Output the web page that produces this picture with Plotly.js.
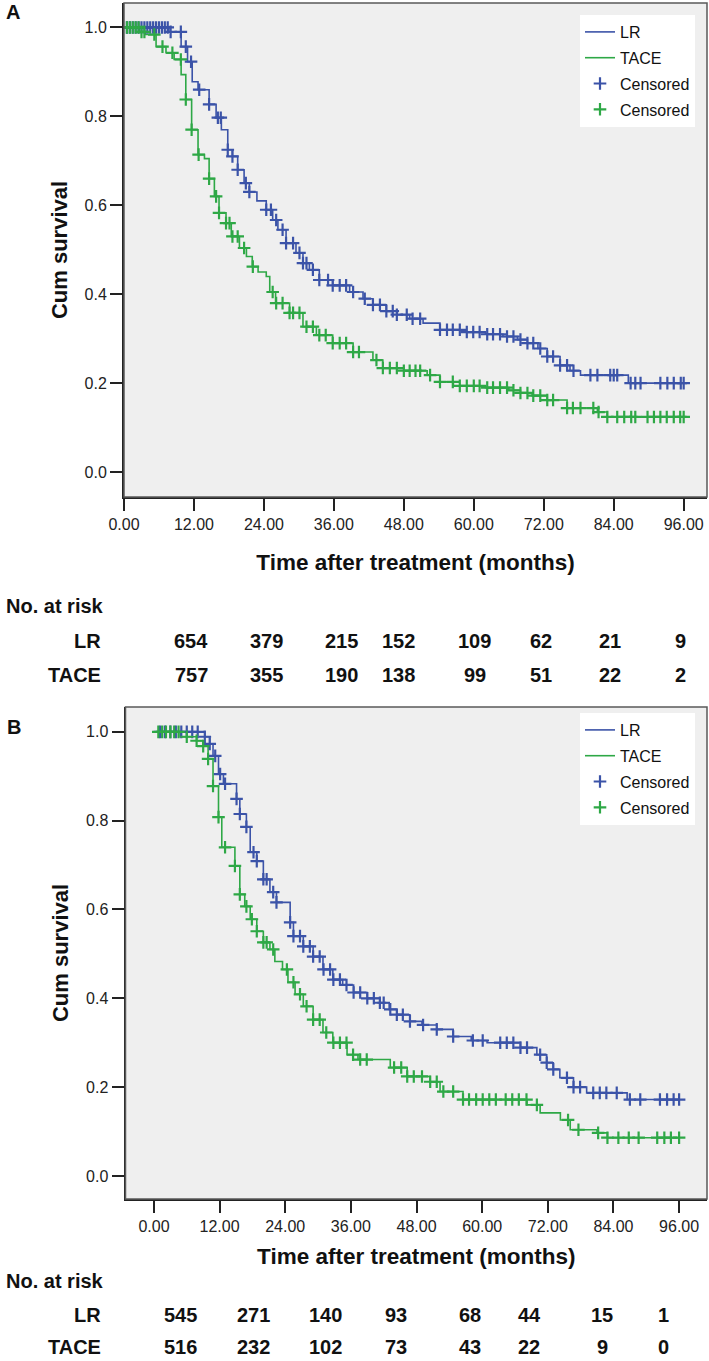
<!DOCTYPE html>
<html><head><meta charset="utf-8">
<script src="https://cdn.plot.ly/plotly-3.0.1.min.js"></script>
<style>html,body{margin:0;padding:0;background:#fff}#chart{width:709px;height:1361px}</style>
</head><body><div id="chart"></div>
<script>
// ---------- data ----------
const xTickVals = [0, 12, 24, 36, 48, 60, 72, 84, 96];
const xTickText = ["0.00", "12.00", "24.00", "36.00", "48.00", "60.00", "72.00", "84.00", "96.00"];
const yTickVals = [0, 0.2, 0.4, 0.6, 0.8, 1.0];
const yTickText = ["0.0", "0.2", "0.4", "0.6", "0.8", "1.0"];
const groupNames = ["LR", "TACE"];
const censorName = "Censored";

// Panel A
const timeA_LR = [0, 7.7, 9.8, 10.9, 11.7, 12.7, 14.6, 15.8, 16.7, 17.8, 18.6, 19.5, 20.6, 21.5, 22.8, 24.4, 25.5, 26.4, 27.8, 29.5, 30.7, 31.8, 33.5, 35.8, 38.7, 41, 42.7, 45, 46.8, 49, 51.3, 54.2, 58, 62, 65, 67.5, 69.2, 71, 72.6, 74.8, 76.5, 78.3, 86.5, 96];
const survA_LR = [1, 0.99, 0.957, 0.923, 0.878, 0.86, 0.827, 0.797, 0.77, 0.725, 0.71, 0.68, 0.65, 0.63, 0.61, 0.59, 0.567, 0.545, 0.515, 0.493, 0.47, 0.455, 0.432, 0.42, 0.405, 0.39, 0.376, 0.362, 0.354, 0.345, 0.335, 0.32, 0.315, 0.31, 0.305, 0.298, 0.29, 0.278, 0.26, 0.24, 0.228, 0.218, 0.2, 0.2];
const censA_LR = [0.5, 1, 1.5, 2, 2.5, 3, 3.5, 4, 4.5, 5, 5.5, 6, 6.5, 7, 7.5, 8, 9.75, 10.6, 11.5, 12.9, 14.6, 16.1, 16.6, 17.8, 18.6, 19.5, 20.9, 21.5, 24.4, 25.2, 26.1, 27.2, 27.8, 29, 30.1, 30.7, 31.3, 32.4, 33.5, 35, 35.8, 37, 38.1, 39.3, 41.3, 42.7, 43.9, 45, 46.1, 46.8, 48.5, 49.5, 50.8, 54.2, 55.4, 56.4, 57.6, 58.8, 59.9, 61, 62.3, 63.3, 64.5, 65.7, 66.8, 68, 69.2, 70.2, 71.4, 72.6, 73.6, 74.8, 76, 77.1, 80, 81.2, 83.4, 84, 84.6, 86.9, 87.7, 88.6, 92, 93.2, 94.3, 95.5, 96];

const timeA_TACE = [0, 2.6, 3.7, 5.5, 7.2, 8.6, 9.8, 10.6, 11.6, 12.7, 13.8, 14.6, 15.5, 16.3, 17.5, 18.4, 19.8, 21, 22, 23, 24.4, 25, 26, 28.4, 30.7, 33, 35.8, 39.3, 42.7, 44.4, 48, 52, 54.2, 56.5, 62, 66, 68, 70, 72.6, 76, 81.2, 82.9, 96];
const survA_TACE = [1, 0.99, 0.984, 0.957, 0.943, 0.928, 0.894, 0.838, 0.77, 0.714, 0.705, 0.66, 0.62, 0.583, 0.56, 0.53, 0.504, 0.485, 0.462, 0.45, 0.44, 0.405, 0.38, 0.358, 0.327, 0.308, 0.29, 0.27, 0.252, 0.234, 0.228, 0.218, 0.203, 0.194, 0.19, 0.184, 0.178, 0.172, 0.162, 0.144, 0.135, 0.124, 0.124];
const censA_TACE = [0.5, 1, 1.5, 2, 2.5, 3, 3.5, 5.2, 6.6, 8.3, 9.75, 10.6, 11.6, 12.8, 14.6, 15.8, 16.3, 17.5, 18.1, 18.6, 19.5, 20.6, 22.1, 25.5, 26.1, 27.2, 28.4, 29, 30.1, 31.3, 32.4, 33.5, 34.6, 35.8, 37, 38.1, 39.3, 40.3, 43.3, 44.4, 45.6, 46.8, 48, 49, 50, 50.8, 52.5, 54.2, 56.4, 57.6, 58.8, 60, 61, 62.3, 63.3, 64.5, 65.7, 66.8, 68, 69.2, 70.2, 71.4, 72.6, 73.6, 76, 77, 78.3, 80.5, 81.4, 82.9, 84.6, 85.8, 87, 87.7, 89.8, 90.9, 92, 93.1, 94.3, 95.4, 96];

const riskA_LR = [654, 379, 215, 152, 109, 62, 21, 9];
const riskA_TACE = [757, 355, 190, 138, 99, 51, 22, 2];

// Panel B
const timeB_LR = [0, 9.3, 10.2, 10.8, 11.8, 12.7, 15.1, 15.7, 16.9, 17.6, 18.8, 20, 21.2, 22.4, 24.9, 25.5, 27.3, 29.1, 30.9, 32.7, 34.5, 36.5, 39, 41.3, 43, 44.4, 46.8, 49, 51.7, 54.7, 58, 60.9, 67, 70, 71.8, 73, 74.2, 76.7, 79.1, 86.5, 96];
const survB_LR = [1, 0.989, 0.973, 0.946, 0.905, 0.883, 0.849, 0.815, 0.786, 0.729, 0.709, 0.668, 0.639, 0.616, 0.571, 0.54, 0.517, 0.494, 0.465, 0.442, 0.43, 0.413, 0.4, 0.39, 0.375, 0.363, 0.348, 0.34, 0.33, 0.314, 0.305, 0.3, 0.289, 0.273, 0.255, 0.24, 0.221, 0.2, 0.187, 0.172, 0.172];
const censB_LR = [1.1, 2, 3, 4, 5, 6, 7, 8, 9.3, 10.2, 11.2, 12.1, 13, 15.1, 15.7, 16.9, 18.2, 18.8, 20, 20.6, 21.8, 22.4, 24.9, 25.5, 26.7, 27.3, 28.5, 29.1, 30.3, 31, 32.2, 32.8, 34, 35.2, 36.5, 37.7, 39, 40.2, 41.3, 42, 43.2, 44.4, 45.5, 46.8, 49.2, 51.7, 54.7, 58.3, 60.1, 63.3, 64.5, 65.7, 67, 68.2, 70.6, 71.8, 73, 75.5, 76.7, 77.9, 80.3, 81.5, 82.7, 84.6, 87, 88.9, 92.5, 93.8, 95, 96];

const timeB_TACE = [0, 4.8, 7.8, 9, 9.9, 10.8, 11.8, 12.4, 14.8, 15.7, 16.6, 17.6, 18.8, 20, 21.2, 22.1, 23.5, 24.5, 25.8, 27.3, 29.1, 30.9, 32.7, 35.3, 37.3, 43.2, 46.3, 50.5, 52.3, 56.5, 68.2, 70.6, 74.3, 76.1, 81, 82.9, 96];
const survB_TACE = [1, 0.989, 0.98, 0.968, 0.939, 0.878, 0.808, 0.74, 0.698, 0.634, 0.607, 0.578, 0.551, 0.526, 0.51, 0.483, 0.465, 0.436, 0.409, 0.382, 0.352, 0.323, 0.3, 0.273, 0.262, 0.244, 0.224, 0.212, 0.19, 0.172, 0.16, 0.142, 0.126, 0.104, 0.097, 0.086, 0.086];
const censB_TACE = [0.8, 1.5, 2.2, 3, 3.7, 4.5, 6, 7.8, 9, 9.9, 10.8, 11.8, 13, 14.8, 15.7, 16.9, 17.9, 18.8, 20, 20.6, 21.8, 24.3, 25.5, 26.7, 27.9, 29.1, 30.3, 31.5, 32.8, 34, 35.2, 36.4, 37.7, 38.9, 43.9, 45.2, 46.3, 47.5, 49, 50.5, 51.7, 52.9, 54.7, 56.5, 57.6, 58.9, 60.1, 61.3, 62.5, 64.3, 65.5, 66.7, 68.1, 70, 75.7, 77.6, 81.2, 82.9, 84.9, 86.8, 88.6, 92, 93.3, 94.5, 96];

const riskB_LR = [545, 271, 140, 93, 68, 44, 15, 1];
const riskB_TACE = [516, 232, 102, 73, 43, 22, 9, 0];

// ---------- layout / style (pixels) ----------
const W = 709, H = 1361;
const COL = {LR: '#3b53a8', TACE: '#2ea846'};
const FONT = 'Liberation Sans, Arial, sans-serif';
const riskXA = [191, 266, 341, 398, 475, 541, 610, 680];
const riskXB = [180, 253, 325, 396, 470, 529, 602, 663];
const rowYA = {head: 606, LR: 641, TACE: 675};
const rowYB = {head: 1281, LR: 1315, TACE: 1347};

function px(x) { return x / W; }
function py(y) { return 1 - y / H; }
function stepAt(times, surv, t) {
  let s = surv[0];
  for (let i = 0; i < times.length; i++) { if (times[i] <= t) s = surv[i]; else break; }
  return s;
}

const traces = [];
function addPanel(xa, ya, leg, curves) {
  curves.forEach((c) => {
    traces.push({
      type: 'scatter', mode: 'lines', x: c.t, y: c.s, xaxis: xa, yaxis: ya,
      line: {shape: 'hv', color: COL[c.name], width: 1.6},
      name: c.name, legend: leg, legendgroup: leg + c.name, hoverinfo: 'skip'
    });
  });
  curves.forEach((c) => {
    traces.push({
      type: 'scatter', mode: 'markers', x: c.cens, y: c.cens.map(t => stepAt(c.t, c.s, t)),
      xaxis: xa, yaxis: ya,
      marker: {symbol: 'cross-thin', size: 9, line: {color: COL[c.name], width: 2.2}, color: COL[c.name]},
      name: censorName, legend: leg, legendgroup: leg + 'c' + c.name, hoverinfo: 'skip'
    });
  });
}
addPanel('x', 'y', 'legend', [
  {name: groupNames[0], t: timeA_LR, s: survA_LR, cens: censA_LR},
  {name: groupNames[1], t: timeA_TACE, s: survA_TACE, cens: censA_TACE}
]);
addPanel('x2', 'y2', 'legend2', [
  {name: groupNames[0], t: timeB_LR, s: survB_LR, cens: censB_LR},
  {name: groupNames[1], t: timeB_TACE, s: survB_TACE, cens: censB_TACE}
]);

function xAxis(domain, range, anchor, standoff) {
  return {
    domain: domain, range: range, anchor: anchor,
    tickmode: 'array', tickvals: xTickVals, ticktext: xTickText,
    ticks: 'outside', ticklen: 12, tickwidth: 2, tickcolor: '#222',
    showline: true, linecolor: '#222', linewidth: 2, showgrid: false, zeroline: false,
    tickfont: {family: FONT, size: 16, color: '#222'},
    title: {text: 'Time after treatment (months)', font: {family: FONT, size: 22.5, color: '#111', weight: 'bold'}, standoff: standoff},
    automargin: false, fixedrange: true
  };
}
function yAxis(domain, range, anchor) {
  return {
    domain: domain, range: range, anchor: anchor,
    tickmode: 'array', tickvals: yTickVals, ticktext: yTickText,
    ticks: 'outside', ticklen: 12, tickwidth: 2, tickcolor: '#222',
    showline: true, linecolor: '#222', linewidth: 2, showgrid: false, zeroline: false,
    tickfont: {family: FONT, size: 16, color: '#222'},
    title: {text: 'Cum survival', font: {family: FONT, size: 22, color: '#111', weight: 'bold'}, standoff: 11},
    automargin: false, fixedrange: true
  };
}

const annotations = [];
const riskFont = {family: FONT, size: 20, color: '#111', weight: 'bold'};
function addRisk(xs, rows, lr, tace) {
  annotations.push({text: 'No. at risk', xref: 'paper', yref: 'paper', x: px(4), y: py(rows.head), xanchor: 'left', yanchor: 'middle', showarrow: false, font: riskFont});
  annotations.push({text: groupNames[0], xref: 'paper', yref: 'paper', x: px(103), y: py(rows.LR), xanchor: 'right', yanchor: 'middle', showarrow: false, font: riskFont});
  annotations.push({text: groupNames[1], xref: 'paper', yref: 'paper', x: px(103), y: py(rows.TACE), xanchor: 'right', yanchor: 'middle', showarrow: false, font: riskFont});
  xs.forEach((x, i) => {
    annotations.push({text: String(lr[i]), xref: 'paper', yref: 'paper', x: px(x), y: py(rows.LR), xanchor: 'center', yanchor: 'middle', showarrow: false, font: riskFont});
    annotations.push({text: String(tace[i]), xref: 'paper', yref: 'paper', x: px(x), y: py(rows.TACE), xanchor: 'center', yanchor: 'middle', showarrow: false, font: riskFont});
  });
}
addRisk(riskXA, rowYA, riskA_LR, riskA_TACE);
addRisk(riskXB, rowYB, riskB_LR, riskB_TACE);
annotations.push({text: 'A', xref: 'paper', yref: 'paper', x: px(4), y: py(12), xanchor: 'left', yanchor: 'middle', showarrow: false, font: {family: FONT, size: 20, color: '#111', weight: 'bold'}});
annotations.push({text: 'B', xref: 'paper', yref: 'paper', x: px(5), y: py(727), xanchor: 'left', yanchor: 'middle', showarrow: false, font: {family: FONT, size: 20, color: '#111', weight: 'bold'}});

const legendStyle = (y) => ({
  x: px(580), y: py(y), xanchor: 'left', yanchor: 'top', xref: 'paper', yref: 'paper',
  bgcolor: '#ffffff', borderwidth: 0, font: {family: FONT, size: 16, color: '#111'},
  traceorder: 'grouped', tracegroupgap: 2, itemwidth: 30
});

const layout = {
  width: W, height: H, margin: {l: 0, r: 0, t: 0, b: 0},
  paper_bgcolor: '#ffffff', plot_bgcolor: '#efefef', showlegend: true,
  xaxis: xAxis([px(124), px(707)], [0, 100], 'y', 22),
  yaxis: yAxis([py(497), py(3)], [-0.056, 1.055], 'x'),
  xaxis2: xAxis([px(125.5), px(707)], [-5.2, 101.1], 'y2', 14),
  yaxis2: yAxis([py(1199), py(707)], [-0.052, 1.056], 'x2'),
  legend: legendStyle(15),
  legend2: legendStyle(713),
  annotations: annotations,
  shapes: [
    {type: 'rect', xref: 'x domain', yref: 'y domain', x0: 0, x1: 1, y0: 0, y1: 1, line: {color: '#5a5a5a', width: 1.5}, layer: 'above'},
    {type: 'rect', xref: 'x2 domain', yref: 'y2 domain', x0: 0, x1: 1, y0: 0, y1: 1, line: {color: '#5a5a5a', width: 1.5}, layer: 'above'}
  ]
};

Plotly.newPlot('chart', traces, layout, {staticPlot: true, displayModeBar: false});
</script>
</body></html>
